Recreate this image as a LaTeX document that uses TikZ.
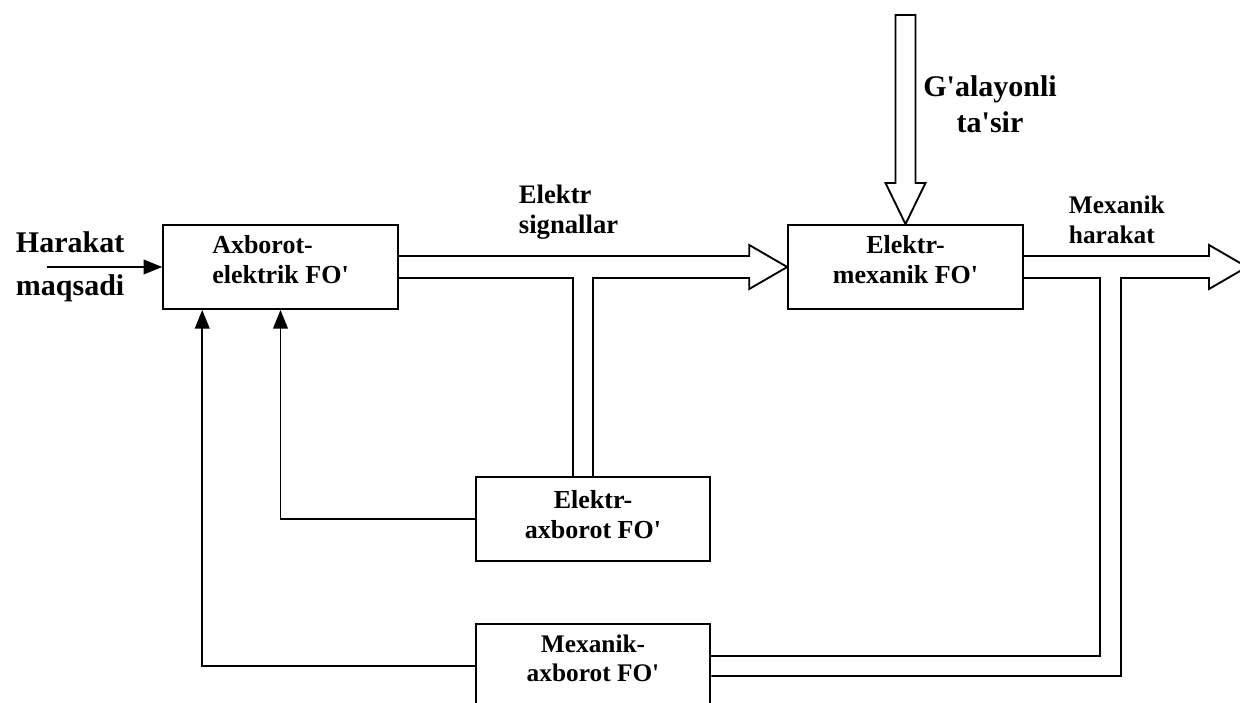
\documentclass[tikz,border=0pt]{standalone}
\usepackage{fontspec}
\setmainfont{Liberation Serif}
\usetikzlibrary{arrows.meta,calc}

\newcommand{\dstrut}[1]{\rule[-#1]{0pt}{#1}}
\newcommand{\apos}{\textquotesingle}

\begin{document}
\begin{tikzpicture}[
  x=0.75pt, y=-0.75pt,
  line width=1.4pt,
  bnode/.style={draw,rectangle,minimum width=176pt,minimum height=63pt,inner sep=0pt,
    align=center,font=\bfseries\fontsize{19.5}{22.5}\selectfont},
  tnode/.style={inner sep=0pt,font=\bfseries\fontsize{20}{22.5}\selectfont}
]
  \useasboundingbox (0,0) rectangle (1240,703);
  \clip (0,0) rectangle (1240,703);

  % blocks
  \node[bnode,align=left] (ae) at (280.5,267) {Axborot-\\elektrik FO\apos\dstrut{11.8pt}};
  \node[bnode] (em) at (905.5,267) {Elektr-\\mexanik FO\apos\dstrut{11.8pt}};
  \node[bnode] (ea) at (593,519) {Elektr-\\axborot FO\apos\dstrut{7.3pt}};
  \node[bnode,font=\bfseries\fontsize{19}{21.75}\selectfont] (ma) at (593,666) {Mexanik-\\axborot FO\apos\dstrut{11pt}};

  % labels
  \node[tnode,font=\bfseries\fontsize{22.5}{32}\selectfont,align=left,anchor=west] (goal) at (15,266.5) {Harakat\\maqsadi};
  \node[tnode,align=left,anchor=west] (sig) at (518,212) {Elektr\\signallar};
  \node[tnode,font=\bfseries\fontsize{22.5}{27}\selectfont,align=center] (dist) at (990,104.7) {G\apos alayonli\\ta\apos sir};
  \node[tnode,font=\bfseries\fontsize{19}{22.5}\selectfont,align=left,anchor=west] (mov) at (1068,219.5) {Mexanik\\harakat};

  % input and feedback
  \coordinate (in) at (47,267);
  \coordinate (fb) at ($(ae.south west)+(40,0)$);
  \draw[-{Triangle[length=14pt,width=11pt]}] (in) -- (ae.west);
  \draw[-{Triangle[length=14pt,width=11pt]}] (ea.west) -| (ae.south);
  \draw[-{Triangle[length=14pt,width=11pt]}] (ma.west) -| (fb);

  % electric signals
  \coordinate (s1) at ($(ae.east)+(0,-11)$);
  \coordinate (s2) at ($(ae.east)+(0,11)$);
  \coordinate (c1) at ($(ea.north)+(-20,0)$);
  \draw (s1) -- ($(em.west)+(-38,-11)$) -- ($(em.west)+(-38,-22)$) -- (em.west)
    -- ($(em.west)+(-38,22)$) -- ($(em.west)+(-38,11)$) -- (ea.north |- s2) -- (ea.north);
  \draw (s2) -- (c1 |- s2) -- (c1);

  % disturbance
  \draw (895.5,15) -- (895.5,183) -- (885.5,183) -- (em.north) -- (925.5,183)
    -- (915.5,183) -- (915.5,15) -- cycle;

  % mechanical motion
  \coordinate (m1) at ($(em.east)+(0,-11)$);
  \coordinate (m2) at ($(em.east)+(0,11)$);
  \coordinate (d1) at ($(ma.east)+(0,-10)$);
  \coordinate (d2) at ($(ma.east)+(0,10)$);
  \coordinate (tip) at (1247,267);
  \draw (m1) -- (1209,256) -- (1209,245) -- (tip) -- (1209,289) -- (1209,278)
    -- (1121,278) -- (1121,676) -- (d2);
  \draw (m2) -- (1100,278) -- (1100,656) -- (d1);

\end{tikzpicture}
\end{document}
